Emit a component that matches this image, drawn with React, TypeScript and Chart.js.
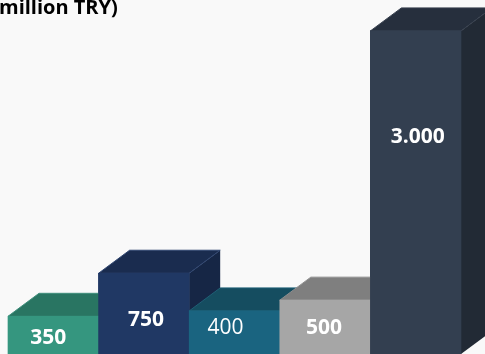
import React, { useEffect, useRef } from "react";
import { Chart, registerables } from "chart.js";

Chart.register(...registerables);

// Bar values and their display text
const categories = ["A", "B", "C", "D", "E"];
const values = [350, 750, 400, 500, 3000];
const valueLabels = ["350", "750", "400", "500", "3.000"];
const titleText = "million TRY)";

// Face colours of each box
const frontColors = ["#35967f", "#203864", "#1a6480", "#a6a6a6", "#333f50"];
const topColors = ["#297562", "#1a2c4f", "#154d60", "#7f7f7f", "#262f3d"];
const sideColors = ["#297562", "#162645", "#154d60", "#7f7f7f", "#222a35"];
const edgeColors = ["#3f8f7c", "#2f4570", "#1f6076", "#8f8f8f", "#363f4d"];

// Label placement relative to the bar centre, and weight
const labelDx = [-5, 2, -9, -1, 2];
const labelY = [338, 320, 328, 328, 137];
const labelWeights = ["bold", "bold", "normal", "bold", "bold"];

const DEPTH_X = 31;
const DEPTH_Y = 23;
const FONT = '"Open Sans", sans-serif';

function polygon(ctx: CanvasRenderingContext2D, pts: number[][], fill: string, edge?: string) {
  ctx.beginPath();
  pts.forEach(([x, y], i) => (i ? ctx.lineTo(x, y) : ctx.moveTo(x, y)));
  ctx.closePath();
  ctx.fillStyle = fill;
  ctx.fill();
  if (edge) {
    ctx.strokeStyle = edge;
    ctx.lineWidth = 1;
    ctx.stroke();
  }
}

// Extrudes every bar into a box, painting left to right so nearer boxes overlap
const boxPlugin = {
  id: "boxes",
  afterDatasetsDraw(chart: any) {
    const ctx: CanvasRenderingContext2D = chart.ctx;
    const bars = chart.getDatasetMeta(0).data;
    bars.forEach((bar: any, i: number) => {
      const half = bar.width / 2;
      const l = bar.x - half;
      const r = bar.x + half;
      const t = bar.y;
      const b = bar.base;
      polygon(ctx, [[r, t], [r + DEPTH_X, t - DEPTH_Y], [r + DEPTH_X, b - DEPTH_Y], [r, b]], sideColors[i]);
      polygon(ctx, [[l, t], [l + DEPTH_X, t - DEPTH_Y], [r + DEPTH_X, t - DEPTH_Y], [r, t]], topColors[i], edgeColors[i]);
      bar.draw(ctx);
    });
    ctx.save();
    ctx.fillStyle = "#ffffff";
    ctx.textAlign = "center";
    ctx.textBaseline = "middle";
    bars.forEach((bar: any, i: number) => {
      ctx.font = `${labelWeights[i]} 21px ${FONT}`;
      ctx.fillText(valueLabels[i], bar.x + labelDx[i], labelY[i]);
    });
    ctx.font = `bold 20px ${FONT}`;
    ctx.fillStyle = "#000000";
    ctx.textAlign = "left";
    ctx.textBaseline = "alphabetic";
    ctx.fillText(titleText, -1, 14);
    ctx.restore();
  },
};

export default function App() {
  const ref = useRef<HTMLCanvasElement>(null);
  useEffect(() => {
    const chart = new Chart(ref.current!, {
      type: "bar",
      data: {
        labels: categories,
        datasets: [
          {
            data: values,
            backgroundColor: frontColors,
            borderWidth: 0,
            barPercentage: 1,
            categoryPercentage: 1,
          },
        ],
      },
      options: {
        responsive: false,
        animation: false,
        layout: { padding: { left: 8, right: 24, top: 0, bottom: 0 } },
        scales: {
          x: { display: false },
          y: { display: false, min: 0, max: 3287 },
        },
        plugins: { legend: { display: false }, tooltip: { enabled: false }, title: { display: false } },
      },
      plugins: [boxPlugin],
    });
    return () => chart.destroy();
  }, []);
  return (
    <div style={{ position: "fixed", left: 0, top: 0, width: 485, height: 354, background: "#f9f9f9" }}>
      <canvas ref={ref} width={485} height={354} style={{ display: "block" }} />
    </div>
  );
}
